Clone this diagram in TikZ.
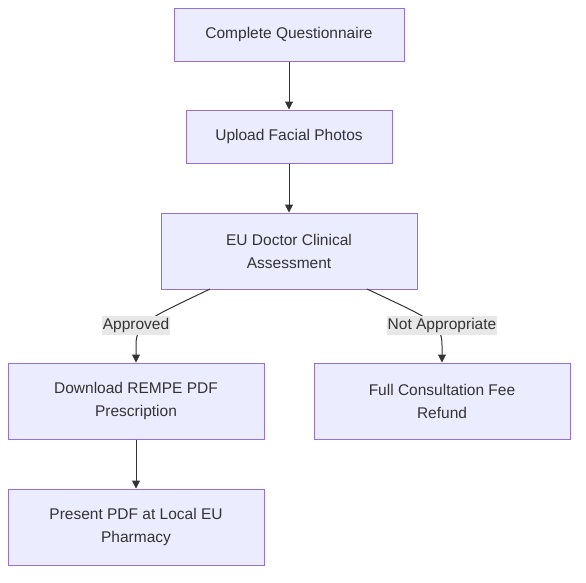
\documentclass[tikz,border=0pt]{standalone}
\usepackage{fontspec}
\setmainfont{Liberation Sans}
\usetikzlibrary{arrows.meta}
\definecolor{nodefill}{HTML}{ECECFF}
\definecolor{nodeline}{HTML}{9370DB}
\definecolor{edgecol}{HTML}{333333}
\definecolor{lblfill}{HTML}{E8E8E8}
\tikzset{
  flowbox/.style={draw=nodeline, fill=nodefill, line width=1pt, inner sep=0pt,
    text=edgecol, align=center, font=\fontsize{15.5}{23}\selectfont},
  conn/.style={draw=edgecol, line width=1pt, -{Triangle[length=8pt,width=8pt]}},
  edgelbl/.style={fill=lblfill, text=edgecol, inner xsep=1pt, inner ysep=2pt,
    font=\fontsize{15.5}{19}\selectfont}
}
\begin{document}
\begin{tikzpicture}[x=1pt,y=-1pt]
\useasboundingbox (0,0) rectangle (586,582);
\node[flowbox, minimum width=230pt, minimum height=53pt] (a) at (289,34.5) {Complete Questionnaire};
\node[flowbox, minimum width=206pt, minimum height=53pt] (b) at (289,136.5) {Upload Facial Photos};
\node[flowbox, minimum width=256pt, minimum height=76pt] (c) at (289,251) {EU Doctor Clinical\\Assessment};
\node[flowbox, minimum width=256pt, minimum height=76pt] (d) at (136,401) {Download REMPE PDF\\Prescription};
\node[flowbox, minimum width=256pt, minimum height=76pt] (e) at (442,401) {Full Consultation Fee\\Refund};
\node[flowbox, minimum width=256pt, minimum height=76pt] (f) at (136,527) {Present PDF at Local EU\\Pharmacy};
\draw[conn] (a) -- (b);
\draw[conn] (b) -- (c);
\draw[conn] (d) -- (f);
\coordinate (cl) at (210,289);
\coordinate (cr) at (367,289);
\draw[conn] (cl) .. controls (150,318) and (136,322) .. (136,345) -- (d.north);
\draw[conn] (cr) .. controls (428,318) and (442,322) .. (442,345) -- (e.north);
\node[edgelbl] (l1) at (136,325.5) {Approved};
\node[edgelbl] (l2) at (442,325.5) {Not Appropriate};
\end{tikzpicture}
\end{document}
